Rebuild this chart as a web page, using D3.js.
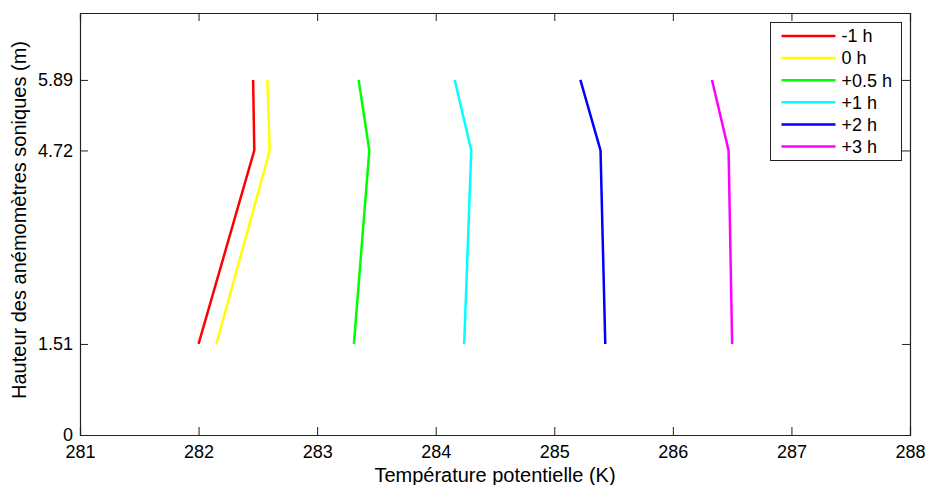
<!DOCTYPE html>
<html>
<head>
<meta charset="utf-8">
<script src="https://d3js.org/d3.v7.min.js"></script>
<style>
  body { margin: 0; background: #fff; }
  text { font-family: Arial, "Liberation Sans", Helvetica, sans-serif; }
</style>
</head>
<body>
<div id="chart"></div>
<script>
// heights of the sonic anemometers (m)
var heights = [1.51, 4.72, 5.89];
// potential temperature profiles (K), one per time offset
var labels = ["-1 h", "0 h", "+0.5 h", "+1 h", "+2 h", "+3 h"];
var colors = ["#ff0000", "#ffff00", "#00ff00", "#00ffff", "#0000ff", "#ff00ff"];
var tempM1  = [282.00, 282.47, 282.46];
var temp0   = [282.15, 282.60, 282.58];
var tempP05 = [283.31, 283.44, 283.35];
var tempP1  = [284.24, 284.30, 284.16];
var tempP2  = [285.43, 285.39, 285.22];
var tempP3  = [286.50, 286.47, 286.33];
var profiles = [tempM1, temp0, tempP05, tempP1, tempP2, tempP3];
var xTicks = [281, 282, 283, 284, 285, 286, 287, 288];
var yTicks = [0, 1.51, 4.72, 5.89];

var margin = {top: 13, right: 17, bottom: 50, left: 80},
    width = 927 - margin.left - margin.right,
    height = 485 - margin.top - margin.bottom;

var svg = d3.select("#chart")
    .append("svg")
    .attr("width", 927)
    .attr("height", 485)
    .append("g")
    .attr("transform", "translate(" + margin.left + "," + margin.top + ")");

var x = d3.scaleLinear().domain([281, 288]).range([0, width]);
var y = d3.scaleLinear().domain([0, 7]).range([height, 0]);

var tickLen = 8;
var fs = 18;

// bottom axis (ticks inward)
svg.append("g")
    .attr("transform", "translate(0," + height + ")")
    .call(d3.axisBottom(x).tickValues(xTicks).tickSize(-tickLen).tickPadding(10).tickFormat(d3.format("d")));
// top axis mirror
svg.append("g")
    .call(d3.axisTop(x).tickValues(xTicks).tickSize(-tickLen).tickFormat(""));
// left axis
svg.append("g")
    .call(d3.axisLeft(y).tickValues(yTicks).tickSize(-tickLen).tickPadding(7)
      .tickFormat(function(d) { return d === 0 ? "0" : d3.format(".2f")(d); }));
// right axis mirror
svg.append("g")
    .attr("transform", "translate(" + width + ",0)")
    .call(d3.axisRight(y).tickValues(yTicks).tickSize(-tickLen).tickFormat(""));

svg.selectAll(".domain").attr("stroke", "#222").attr("stroke-width", 1.2);
svg.selectAll(".tick line").attr("stroke", "#222");
svg.selectAll(".tick text").attr("font-size", fs).attr("fill", "#000");

// axis titles
svg.append("text")
    .attr("text-anchor", "middle")
    .attr("x", width / 2)
    .attr("y", height + 47)
    .attr("font-size", 20)
    .text("Température potentielle (K)");

svg.append("text")
    .attr("text-anchor", "middle")
    .attr("transform", "rotate(-90)")
    .attr("x", -207)
    .attr("y", -margin.left + 26)
    .attr("font-size", 20)
    .text("Hauteur des anémomètres soniques (m)");

// profile lines
var line = d3.line()
    .x(function(d) { return x(d[0]); })
    .y(function(d) { return y(d[1]); });

svg.selectAll("path.profile")
    .data(profiles)
    .enter()
    .append("path")
    .attr("class", "profile")
    .attr("fill", "none")
    .attr("stroke", function(d, i) { return colors[i]; })
    .attr("stroke-width", 2.5)
    .attr("d", function(d) { return line(d.map(function(t, j) { return [t, heights[j]]; })); });

// legend (top right corner, inside the axes)
var legW = 131, legH = 138;
var legend = svg.append("g")
    .attr("transform", "translate(" + (width - legW - 8.5) + ",9.5)");
legend.append("rect")
    .attr("width", legW)
    .attr("height", legH)
    .attr("fill", "#fff")
    .attr("stroke", "#222")
    .attr("stroke-width", 1);
var rows = legend.selectAll("g.row")
    .data(labels)
    .enter()
    .append("g")
    .attr("transform", function(d, i) { return "translate(0," + (13.5 + i * 22.1) + ")"; });
rows.append("line")
    .attr("x1", 11).attr("x2", 65)
    .attr("stroke", function(d, i) { return colors[i]; })
    .attr("stroke-width", 2.5);
rows.append("text")
    .attr("x", 71)
    .attr("dy", "0.35em")
    .attr("font-size", fs)
    .text(function(d) { return d; });
</script>
</body>
</html>
